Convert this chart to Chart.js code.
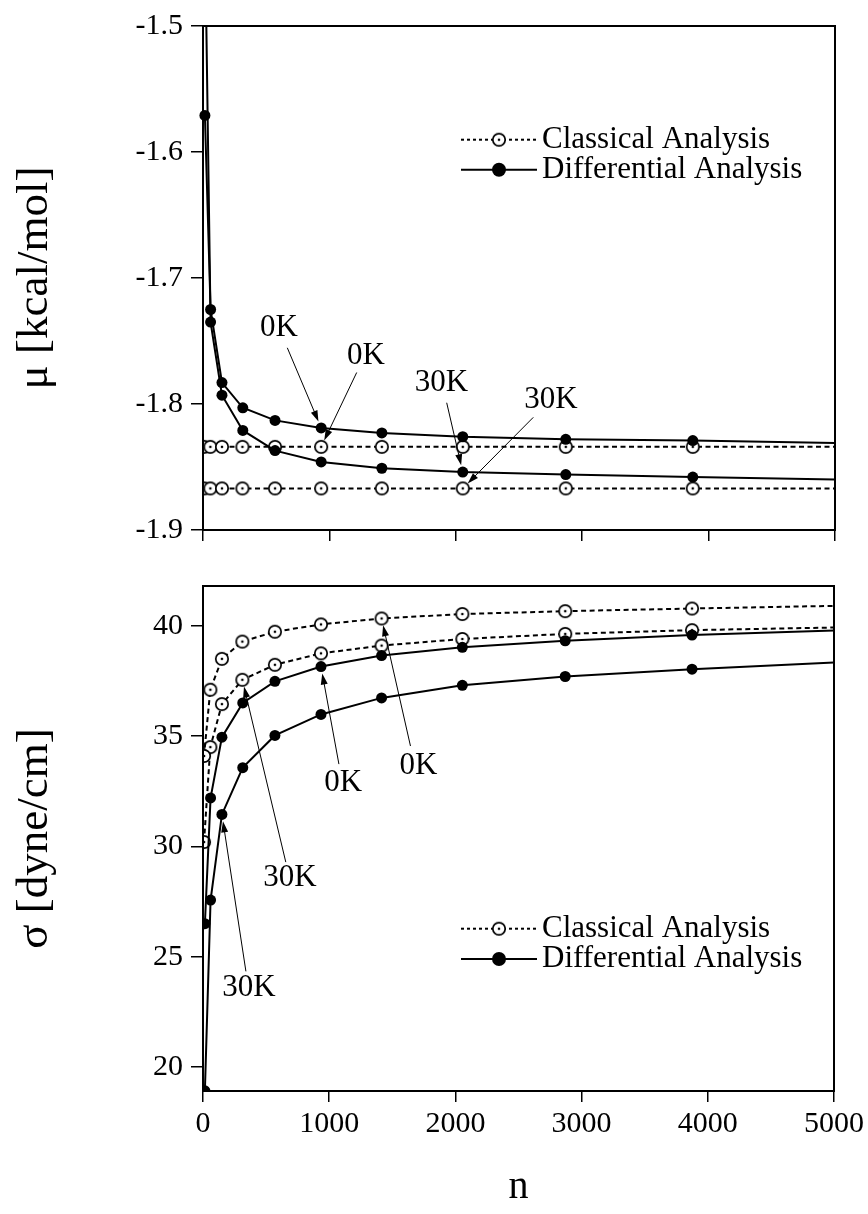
<!DOCTYPE html>
<html>
<head>
<meta charset="utf-8">
<script src="https://cdn.jsdelivr.net/npm/chart.js@4.4.0/dist/chart.umd.min.js"></script>
<style>
  html, body { margin: 0; padding: 0; background: #fff; }
  #wrap { position: relative; width: 868px; height: 1214px; }
  #muChart { position: absolute; left: 0; top: 0; }
  #sigmaChart { position: absolute; left: 0; top: 560px; }
</style>
</head>
<body>
<div id="wrap">
  <canvas id="muChart" width="868" height="560"></canvas>
  <canvas id="sigmaChart" width="868" height="654"></canvas>
</div>
<script>
// axis ticks
var xTicks = [0, 1000, 2000, 3000, 4000, 5000];
var muTicks = [-1.9, -1.8, -1.7, -1.6, -1.5];
var sigmaTicks = [20, 25, 30, 35, 40];

// system size n (last entry = right edge, no marker)
var nClassical = [8, 58, 150, 312, 570, 935, 1415, 2055, 2870, 3875, 5000];
var nDiff = [15, 60, 150, 315, 570, 935, 1415, 2055, 2870, 3875, 5000];

// chemical potential mu [kcal/mol]
var muClassical0K = [-1.834, -1.834, -1.834, -1.834, -1.834, -1.834, -1.834, -1.834, -1.834, -1.834, -1.834];
var muClassical30K = [-1.867, -1.867, -1.867, -1.867, -1.867, -1.867, -1.867, -1.867, -1.867, -1.867, -1.867];
var muDiff0K = [-1.571, -1.725, -1.783, -1.803, -1.813, -1.819, -1.823, -1.826, -1.828, -1.829, -1.831];
var muDiff30K = [-1.42, -1.735, -1.793, -1.821, -1.837, -1.846, -1.851, -1.854, -1.856, -1.858, -1.860];

// surface tension sigma [dyne/cm]
var sigmaClassical0K = [34.1, 37.1, 38.5, 39.28, 39.73, 40.06, 40.33, 40.53, 40.66, 40.78, 40.9];
var sigmaClassical30K = [30.2, 34.5, 36.45, 37.55, 38.23, 38.75, 39.1, 39.4, 39.63, 39.8, 39.92];
var sigmaDiff0K = [26.5, 32.2, 34.95, 36.5, 37.48, 38.15, 38.65, 39.02, 39.32, 39.58, 39.78];
var sigmaDiff30K = [18.93, 27.57, 31.45, 33.57, 35.03, 35.98, 36.73, 37.3, 37.7, 38.03, 38.33];

var FONT = '"Liberation Serif", "Times New Roman", serif';

// open circle with a dot, used as point style for classical analysis
var ring = document.createElement('canvas');
ring.width = 16; ring.height = 16;
(function () {
  var g = ring.getContext('2d');
  g.beginPath(); g.arc(8, 8, 6.2, 0, 2 * Math.PI);
  g.fillStyle = '#fff'; g.fill();
  g.lineWidth = 1.7; g.strokeStyle = '#000'; g.stroke();
  g.beginPath(); g.arc(8, 8, 1.3, 0, 2 * Math.PI);
  g.fillStyle = '#000'; g.fill();
})();

function pts(ns, vals) {
  return ns.map(function (n, i) { return { x: n, y: vals[i] }; });
}

function classical(ns, vals) {
  return {
    data: pts(ns, vals),
    borderColor: '#000', borderWidth: 2, borderDash: [5, 3.5],
    pointStyle: ring,
    pointRadius: function (c) { return c.dataIndex === ns.length - 1 ? 0 : 6; },
    tension: 0, fill: false
  };
}

function differential(ns, vals, clip) {
  var d = {
    data: pts(ns, vals),
    borderColor: '#000', borderWidth: 2,
    pointStyle: 'circle', backgroundColor: '#000', pointBorderWidth: 0,
    pointRadius: function (c) { return c.dataIndex === ns.length - 1 ? 0 : 5.5; },
    tension: 0, fill: false
  };
  if (clip) d.clip = clip;
  return d;
}

// frame around the plot area
var framePlugin = {
  id: 'frame',
  afterDatasetsDraw: function (chart) {
    var a = chart.chartArea, ctx = chart.ctx;
    ctx.save();
    ctx.strokeStyle = '#000'; ctx.lineWidth = 2;
    ctx.strokeRect(a.left, a.top, a.right - a.left, a.bottom - a.top);
    ctx.restore();
  }
};

function legendPlugin(rowY) {
  return {
    id: 'legendRows',
    afterDraw: function (chart) {
      var a = chart.chartArea, ctx = chart.ctx;
      var x0 = a.left + 258, x1 = a.left + 334, xm = (x0 + x1) / 2;
      ctx.save();
      ctx.strokeStyle = '#000'; ctx.fillStyle = '#000'; ctx.lineWidth = 2;
      // classical
      var y = a.top + rowY[0];
      ctx.setLineDash([3, 3]);
      ctx.beginPath(); ctx.moveTo(x0, y); ctx.lineTo(x1, y); ctx.stroke();
      ctx.setLineDash([]);
      ctx.drawImage(ring, xm - 8, y - 8);
      // differential
      var y2 = a.top + rowY[1];
      ctx.beginPath(); ctx.moveTo(x0, y2); ctx.lineTo(x1, y2); ctx.stroke();
      ctx.beginPath(); ctx.arc(xm, y2, 7, 0, 2 * Math.PI); ctx.fill();
      ctx.font = '31px ' + FONT;
      ctx.textAlign = 'left'; ctx.textBaseline = 'middle';
      ctx.fillText('Classical Analysis', x1 + 5, y);
      ctx.fillText('Differential Analysis', x1 + 5, y2);
      ctx.restore();
    }
  };
}

function notesPlugin(notes) {
  return {
    id: 'notes',
    afterDraw: function (chart) {
      var ctx = chart.ctx, xs = chart.scales.x, ys = chart.scales.y;
      ctx.save();
      ctx.strokeStyle = '#000'; ctx.fillStyle = '#000'; ctx.lineWidth = 1;
      ctx.font = '31px ' + FONT;
      ctx.textAlign = 'center'; ctx.textBaseline = 'middle';
      notes.forEach(function (nt) {
        var p = chart.getDatasetMeta(nt.ds).data[nt.idx];
        var tx = xs.getPixelForValue(nt.tail[0]), ty = ys.getPixelForValue(nt.tail[1]);
        var dx = tx - p.x, dy = ty - p.y, len = Math.sqrt(dx * dx + dy * dy);
        var ux = dx / len, uy = dy / len;
        var hx = p.x + ux * 7, hy = p.y + uy * 7;
        ctx.beginPath(); ctx.moveTo(tx, ty); ctx.lineTo(hx + ux * 8, hy + uy * 8); ctx.stroke();
        ctx.beginPath();
        ctx.moveTo(hx, hy);
        ctx.lineTo(hx + ux * 11 - uy * 3.5, hy + uy * 11 + ux * 3.5);
        ctx.lineTo(hx + ux * 11 + uy * 3.5, hy + uy * 11 - ux * 3.5);
        ctx.closePath(); ctx.fill();
        ctx.fillText(nt.text, xs.getPixelForValue(nt.at[0]), ys.getPixelForValue(nt.at[1]));
      });
      ctx.restore();
    }
  };
}

function scales(yMin, yMax, yTicks, yTitle, yFmt, showX, xHeight) {
  return {
    x: {
      type: 'linear', min: 0, max: 5000,
      afterBuildTicks: function (s) { s.ticks = xTicks.map(function (v) { return { value: v }; }); },
      afterFit: function (s) { s.height = xHeight; },
      grid: { display: true, drawOnChartArea: false, drawTicks: true, tickLength: 11, color: '#000', lineWidth: 1.5 },
      border: { display: true, color: '#000', width: 2 },
      ticks: { display: showX, color: '#000', font: { family: FONT, size: 30 }, padding: 4, maxRotation: 0,
        callback: function (v) { return String(v); } },
      title: { display: showX, text: 'n', color: '#000', font: { family: FONT, size: 40 }, padding: { top: 0, bottom: 3 } }
    },
    y: {
      type: 'linear', min: yMin, max: yMax,
      afterBuildTicks: function (s) { s.ticks = yTicks.map(function (v) { return { value: v }; }); },
      afterFit: function (s) { s.width = 203; },
      grid: { display: true, drawOnChartArea: false, drawTicks: true, tickLength: 12, color: '#000', lineWidth: 1.5 },
      border: { display: true, color: '#000', width: 2 },
      ticks: { color: '#000', font: { family: FONT, size: 30 }, padding: 8, callback: yFmt },
      title: { display: true, text: yTitle, color: '#000', font: { family: FONT, size: 45 }, padding: { top: 8, bottom: 0 } }
    }
  };
}

var common = {
  responsive: false, animation: false, events: [],
  plugins: { legend: { display: false }, tooltip: { enabled: false } }
};

var topClip = { left: 8, right: 8, bottom: 8, top: 0 };

new Chart(document.getElementById('muChart'), {
  type: 'line',
  data: {
    datasets: [
      differential(nDiff, muDiff0K, topClip),
      differential(nDiff, muDiff30K, topClip),
      classical(nClassical, muClassical0K),
      classical(nClassical, muClassical30K)
    ]
  },
  options: Object.assign({}, common, {
    layout: { padding: { left: 0, top: 23, right: 33, bottom: 0 } },
    scales: scales(-1.9, -1.5, muTicks, 'μ [kcal/mol]', function (v) { return v.toFixed(1); }, false, 30)
  }),
  plugins: [framePlugin, legendPlugin([113.7, 143.7]), notesPlugin([
    { text: '0K', at: [601, -1.7398], tail: [667, -1.7554], ds: 0, idx: 5 },
    { text: '0K', at: [1290, -1.762], tail: [1216, -1.775], ds: 2, idx: 5 },
    { text: '30K', at: [1887, -1.783], tail: [1928, -1.799], ds: 1, idx: 7 },
    { text: '30K', at: [2753, -1.7966], tail: [2613, -1.8106], ds: 3, idx: 7 }
  ])]
});

new Chart(document.getElementById('sigmaChart'), {
  type: 'line',
  data: {
    datasets: [
      differential(nDiff, sigmaDiff0K),
      differential(nDiff, sigmaDiff30K),
      classical(nClassical, sigmaClassical0K),
      classical(nClassical, sigmaClassical30K)
    ]
  },
  options: Object.assign({}, common, {
    layout: { padding: { left: 0, top: 24, right: 33, bottom: 0 } },
    scales: scales(18.92, 41.8, sigmaTicks, 'σ [dyne/cm]', function (v) { return String(v); }, true, 123)
  }),
  plugins: [framePlugin, legendPlugin([342.7, 373]), notesPlugin([
    { text: '0K', at: [1111, 32.9], tail: [1077, 33.73], ds: 0, idx: 5 },
    { text: '0K', at: [1708, 33.65], tail: [1644, 34.55], ds: 2, idx: 6 },
    { text: '30K', at: [688, 28.56], tail: [656, 29.29], ds: 3, idx: 3 },
    { text: '30K', at: [364, 23.6], tail: [340, 24.34], ds: 1, idx: 2 }
  ])]
});
</script>
</body>
</html>
